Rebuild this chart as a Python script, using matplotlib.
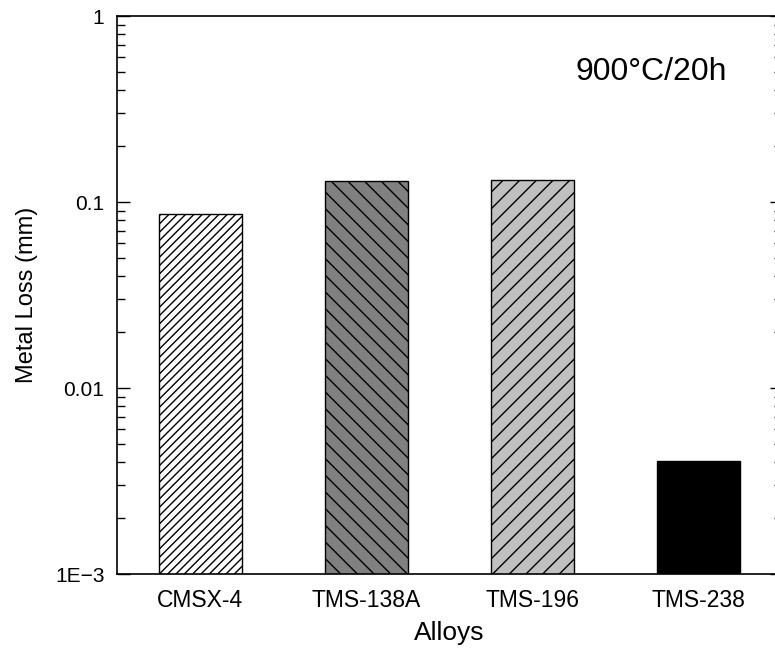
import numpy as np
import matplotlib
matplotlib.use("Agg")
import matplotlib.pyplot as plt
from matplotlib.ticker import FixedLocator, FixedFormatter, LogLocator, NullFormatter

alloys = ["CMSX-4", "TMS-138A", "TMS-196", "TMS-238"]
metal_loss = [0.086, 0.129, 0.132, 0.00405]
colors = ["white", "#808080", "#c0c0c0", "black"]
hatches = ["////", "\\\\", "//", ""]
ytick_vals = [1e-3, 1e-2, 1e-1, 1]
ytick_labels = ["1E\u22123", "0.01", "0.1", "1"]

plt.rcParams["font.family"] = ["Liberation Sans", "DejaVu Sans"]
plt.rcParams["hatch.linewidth"] = 1.0

fig = plt.figure(figsize=(7.75, 6.49), dpi=100)
ax = fig.add_axes([117 / 775, 75 / 649, (782 - 117) / 775, (574 - 16) / 649])

x = np.arange(len(alloys))
ax.set_yscale("log")
for i in range(len(alloys)):
    ax.bar(x[i], metal_loss[i], width=0.5, color=colors[i], hatch=hatches[i],
           edgecolor="black", linewidth=1.0)

ax.set_ylim(1e-3, 1)
ax.set_xlim(-0.5, 3.5)

ax.yaxis.set_major_locator(FixedLocator(ytick_vals))
ax.yaxis.set_major_formatter(FixedFormatter(ytick_labels))
ax.yaxis.set_minor_locator(LogLocator(base=10, subs=np.arange(2, 10)))
ax.yaxis.set_minor_formatter(NullFormatter())
ax.tick_params(axis="y", which="major", direction="in", length=9, width=1,
               left=True, right=True, labelsize=15, pad=9)
ax.tick_params(axis="y", which="minor", direction="in", length=6, width=1,
               left=True, right=True)

ax.set_xticks(x)
ax.set_xticklabels(alloys, fontsize=16.5)
ax.tick_params(axis="x", length=0, pad=11)

for s in ax.spines.values():
    s.set_linewidth(1.2)

ax.set_ylabel("Metal Loss (mm)", fontsize=17, labelpad=12)
ax.set_xlabel("Alloys", fontsize=19, labelpad=6)
ax.text(0.803, 0.90, "900\u00b0C/20h", transform=ax.transAxes, fontsize=23,
        ha="center", va="center")

fig.savefig("out.png", dpi=100)
